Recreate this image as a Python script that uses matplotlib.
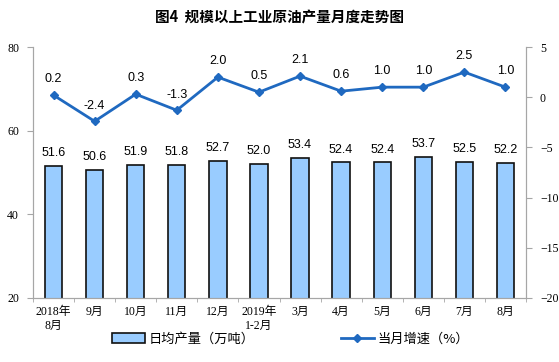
import matplotlib
matplotlib.use("Agg")
import matplotlib.pyplot as plt
import numpy as np

months = ["2018年\n8月", "9月", "10月", "11月", "12月", "2019年\n1-2月",
          "3月", "4月", "5月", "6月", "7月", "8月"]
output = [51.6, 50.6, 51.9, 51.8, 52.7, 52.0, 53.4, 52.4, 52.4, 53.7, 52.5, 52.2]
growth = [0.2, -2.4, 0.3, -1.3, 2.0, 0.5, 2.1, 0.6, 1.0, 1.0, 2.5, 1.0]

cjk = ["Noto Sans CJK SC", "DejaVu Sans"]
serif_cjk = ["Liberation Serif", "Noto Sans CJK SC"]
grey = "#a6a6a6"
bar_color = "#99ccff"
line_color = "#1f69c0"

fig = plt.figure(figsize=(5.59, 3.62), dpi=100)
ax = fig.add_axes([33/559, 1-298/362, (526-33)/559, (298-47)/362])
ax2 = ax.twinx()

x = np.arange(len(months))
bars = ax.bar(x, output, width=0.42, color=bar_color, edgecolor="#111111",
              linewidth=1.2, zorder=2, label="日均产量（万吨）")
for xi, v in zip(x, output):
    ax.annotate(f"{v:.1f}", (xi, v), xytext=(0, 5), textcoords="offset points",
                ha="center", va="bottom", fontsize=9, family="Liberation Sans")

line, = ax2.plot(x, growth, color=line_color, lw=2, marker="D", markersize=4,
                 label="当月增速（%）", zorder=3)
for xi, v in zip(x, growth):
    ax2.annotate(f"{v:.1f}", (xi, v), xytext=(0, 7), textcoords="offset points",
                 ha="center", va="bottom", fontsize=9, family="Liberation Sans")

ax.set_xlim(-0.5, len(months) - 0.5)
ax.set_ylim(20, 80)
ax.set_yticks([20, 40, 60, 80])
ax2.set_ylim(-20, 5)
ax2.set_yticks([-20, -15, -10, -5, 0, 5])

ax.set_xticks(x)
ax.set_xticklabels(months, family=serif_cjk, fontsize=8.5)
ax.set_xticks(np.arange(-0.5, len(months)), minor=True)
ax.tick_params(axis="x", which="major", length=0, pad=6)
ax.tick_params(axis="x", which="minor", length=3, color=grey, direction="out")
ax.tick_params(axis="y", length=4, color=grey, labelsize=8.5, pad=6)
ax2.tick_params(axis="y", length=4, color=grey, labelsize=8.5, pad=6)
for lab in ax.get_yticklabels() + ax2.get_yticklabels():
    lab.set_family("Liberation Serif")

for a in (ax, ax2):
    a.spines["top"].set_visible(False)
    for s in ("left", "right", "bottom"):
        a.spines[s].set_color(grey)
ax2.set_zorder(ax.get_zorder() + 1)
ax2.patch.set_visible(False)

fig.text(0.5, 1 - 17/362, "图4  规模以上工业原油产量月度走势图", ha="center", va="center",
         fontsize=10.5, family=cjk, fontweight="bold")

leg = fig.legend([bars, line], ["日均产量（万吨）", "当月增速（%）"], loc="center",
                 bbox_to_anchor=(0.52, 1 - 339/362), ncol=2, frameon=False,
                 prop={"family": cjk, "size": 9.5}, columnspacing=6.5,
                 handlelength=2.5, handletextpad=0.3)

fig.savefig("out.png", dpi=100)
